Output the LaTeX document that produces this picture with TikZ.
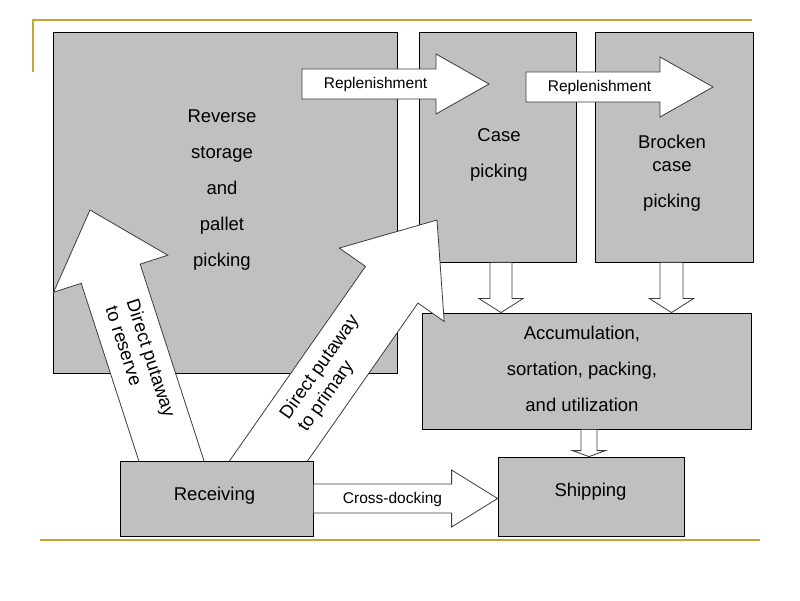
\documentclass[tikz,border=0pt]{standalone}
\usepackage{fontspec}
\setmainfont{Liberation Sans}
\usepackage{tikz}
\usepackage{xcolor}
\usetikzlibrary{positioning, calc}

\definecolor{boxgray}{RGB}{192,192,192}
\definecolor{linegold}{RGB}{200,166,52}
\definecolor{arrowline}{RGB}{60,60,60}

% block arrow: start, tip, shaft half width, head half width, head length
\newcommand{\blockarrow}[5]{%
	\coordinate (hb) at ($(#2)!#5!(#1)$);
	\draw[barrow] ($(#1)!#3!90:(#2)$) -- ($(hb)!#3!-90:(#1)$) -- ($(hb)!#4!-90:(#1)$) -- (#2)
		-- ($(hb)!#4!90:(#1)$) -- ($(hb)!#3!90:(#1)$) -- ($(#1)!#3!-90:(#2)$) -- cycle;
}

\tikzset{
	box/.style={draw=black, line width=0.8pt, fill=boxgray, inner sep=0pt},
	barrow/.style={draw=arrowline, line width=0.8pt, fill=white, line join=miter},
	boxtext/.style={align=center, font=\fontsize{18.5}{36}\selectfont},
	sidetext/.style={align=left, font=\fontsize{18.5}{22}\selectfont},
	smalltext/.style={font=\fontsize{15.5}{18}\selectfont},
	goldline/.style={draw=linegold, line width=2.5pt}
}

\begin{document}
\begin{tikzpicture}[x=1pt, y=1pt]
		\useasboundingbox (0,0) rectangle (800,600);

		% Frame lines
		\draw[goldline] (33,528) -- (33,580) -- (752,580);
		\draw[goldline] (40,60) -- (760,60);

		% Areas
		\node[box, minimum width=344pt, minimum height=341pt] (reserve) at (225,397.5) {};
		\node[box, minimum width=157pt, minimum height=230pt] (case) at (497.5,453) {};
		\node[box, minimum width=158pt, minimum height=230pt] (brocken) at (674,453) {};
		\node[box, minimum width=329pt, minimum height=116pt] (accum) at (586.5,229) {};
		\node[box, minimum width=186pt, minimum height=79pt] (shipping) at (591,103.5) {};

		% Putaway arrows
		\coordinate (resS) at (182.5,105);
		\coordinate (resE) at (90,390);
		\coordinate (priS) at (244.7,105);
		\coordinate (priE) at (437,380);
		\blockarrow{resS}{resE}{31pt}{60pt}{67pt}
		\blockarrow{priS}{priE}{32pt}{64pt}{79pt}

		\node[box, minimum width=193pt, minimum height=75pt] (receiving) at (216.5,101.5) {};

		% Replenishment arrows
		\coordinate (rep1S) at (302,516);
		\coordinate (rep1E) at (489,516);
		\coordinate (rep2S) at (526,513);
		\coordinate (rep2E) at (713,513);
		\blockarrow{rep1S}{rep1E}{15pt}{30pt}{53pt}
		\blockarrow{rep2S}{rep2E}{15pt}{30pt}{53pt}

		% Down arrows
		\coordinate (caseS) at ([xshift=3.5]case.south);
		\coordinate (caseE) at (caseS |- accum.north);
		\coordinate (brkS) at ([xshift=-2.5]brocken.south);
		\coordinate (brkE) at (brkS |- accum.north);
		\coordinate (accS) at ([xshift=2.5]accum.south);
		\coordinate (accE) at (accS |- shipping.north);
		\blockarrow{caseS}{caseE}{11pt}{22pt}{14pt}
		\blockarrow{brkS}{brkE}{11.5pt}{22pt}{14pt}
		\blockarrow{accS}{accE}{8pt}{16.5pt}{6pt}

		% Cross-docking
		\coordinate (crossS) at (receiving.east);
		\coordinate (crossE) at (shipping.west |- crossS);
		\blockarrow{crossS}{crossE}{14.5pt}{28.5pt}{46pt}

		% Texts
		\node[boxtext] (reservetxt) at (222,410) {Reverse\\storage\\and\\pallet\\picking};
		\node[boxtext] (casetxt) at (499,445) {Case\\picking};
		\node[boxtext] (brockentxt) at (672,426.5) {Brocken\\[-13pt]case\\picking};
		\node[boxtext] (accumtxt) at (582,231.5) {Accumulation,\\sortation, packing,\\and utilization};
		\node[boxtext] (shippingtxt) at (590.5,108) {Shipping};
		\node[boxtext] (receivingtxt) at (214.5,104) {Receiving};

		\node[smalltext] (rep1txt) at (375.5,516) {Replenishment};
		\node[smalltext] (rep2txt) at (599.5,513) {Replenishment};
		\node[smalltext] (crosstxt) at (392.5,101) {Cross-docking};

		\node[sidetext, rotate=-72] (restxt) at (141,238.5) {Direct putaway\\to reserve};
		\node[sidetext, rotate=54.7] (pritxt) at (329,226.2) {Direct putaway\\to primary};
	\end{tikzpicture}
\end{document}
